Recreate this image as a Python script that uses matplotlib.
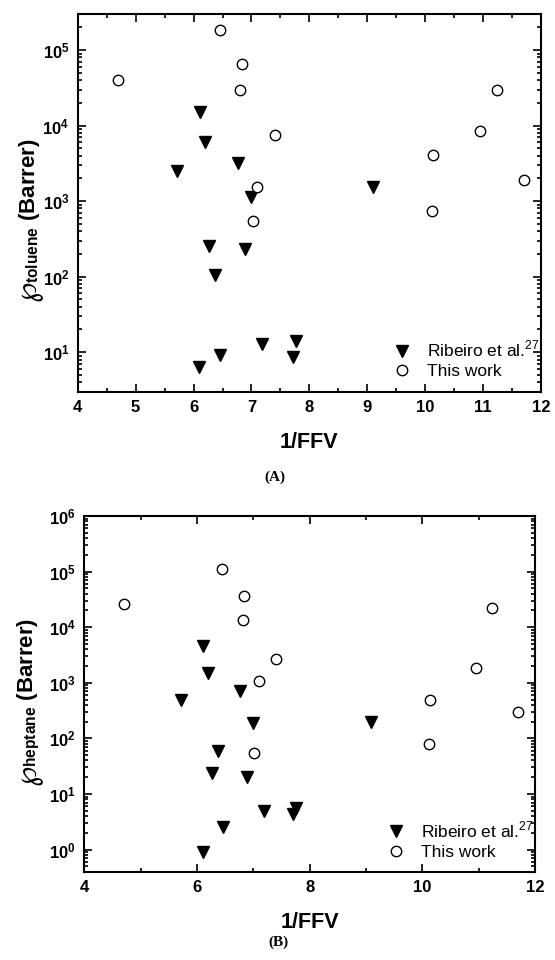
import matplotlib
matplotlib.use('Agg')
from matplotlib import pyplot as plt
from matplotlib.ticker import LogLocator, MultipleLocator, NullFormatter

plt.rcParams['font.family'] = ['Liberation Sans', 'DejaVu Sans']
plt.rcParams['mathtext.fontset'] = 'custom'
plt.rcParams['mathtext.rm'] = 'Liberation Sans'
plt.rcParams['mathtext.bf'] = 'Liberation Sans:bold'

# Ribeiro et al. (triangles)
rib_x = [5.71, 6.10, 6.11, 6.20, 6.26, 6.37, 6.46, 6.76, 6.89, 7.00, 7.19, 7.71, 7.76, 9.09]
rib_toluene = [2.5e3, 6.3, 1.53e4, 6.0e3, 252, 106, 9.3, 3.24e3, 232, 1.13e3, 13, 8.7, 14, 1.53e3]
rib_heptane = [482, 0.91, 4.6e3, 1.5e3, 23.4, 59, 2.5, 708, 20, 190, 5.0, 4.3, 5.6, 196]

# this work (open circles)
tw_x = [4.70, 6.45, 6.83, 6.81, 7.40, 7.10, 7.02, 10.14, 10.12, 10.95, 11.23, 11.70]
tw_toluene = [4.0e4, 1.84e5, 6.5e4, 2.95e4, 7.4e3, 1.56e3, 538, 4.1e3, 745, 8.5e3, 3.0e4, 1.9e3]
tw_heptane = [2.57e4, 1.13e5, 3.6e4, 1.34e4, 2.7e3, 1.09e3, 55, 489, 80, 1.86e3, 2.2e4, 297]

W, H = 555, 960
fig = plt.figure(figsize=(W / 100, H / 100), dpi=100)
axA = fig.add_axes([0.140, 0.592, 0.835, 0.3934])
axB = fig.add_axes([0.152, 0.092, 0.812, 0.3705])


def style_ax(ax, ylo, yhi, xmaj, xmin, gas, ysym):
    ax.plot(rib_x, rib_toluene if gas == 'toluene' else rib_heptane, 'v', color='black',
            markersize=9, linestyle='none', label='Ribeiro et al.$^{27}$')
    ax.plot(tw_x, tw_toluene if gas == 'toluene' else tw_heptane, 'o', markerfacecolor='white',
            markeredgecolor='black', markeredgewidth=1.0, markersize=7.5, linestyle='none',
            label='This work')
    ax.set_yscale('log')
    ax.set_ylim(ylo, yhi)
    ax.set_xlim(4, 12)
    ax.xaxis.set_major_locator(MultipleLocator(xmaj))
    ax.xaxis.set_minor_locator(MultipleLocator(xmin))
    ax.yaxis.set_major_locator(LogLocator(base=10, numticks=20))
    ax.yaxis.set_minor_locator(LogLocator(base=10, subs=range(2, 10), numticks=20))
    ax.yaxis.set_minor_formatter(NullFormatter())
    for s in ax.spines.values():
        s.set_linewidth(1.5)
    ax.tick_params(which='both', direction='in', top=True, right=True, width=1.2)
    ax.tick_params(which='major', length=5.5, labelsize=12, pad=6)
    ax.tick_params(which='minor', length=3)
    for lab in ax.get_xticklabels() + ax.get_yticklabels():
        lab.set_fontweight('bold')
    ax.set_xlabel('1/FFV', fontsize=15.5, fontweight='bold', labelpad=12)
    ax.legend(loc='lower right', bbox_to_anchor=(1.0, 0.028), frameon=False, fontsize=12.5,
              handletextpad=0.45, labelspacing=0.25, borderaxespad=0.0, borderpad=0.1)

    # y label: big script P, then subscript + unit stacked above it
    fig.text(28 / W, 1 - ysym / H, '\u2118', fontsize=21, family='DejaVu Sans',
             rotation=90, ha='center', va='center')
    fig.text(29 / W, 1 - (ysym - 8) / H, r'$_{\mathbf{' + gas + r'}}$ (Barrer)',
             fontsize=16, fontweight='bold', rotation=90, ha='center', va='bottom')


style_ax(axA, 3, 3e5, 1, 0.5, 'toluene', 291)
style_ax(axB, 0.4, 1e6, 2, 1, 'heptane', 775)

fig.text(275 / W, 1 - 477 / H, '(A)', fontsize=11, fontweight='bold',
         family='Liberation Serif', ha='center', va='center')
fig.text(278 / W, 1 - 942 / H, '(B)', fontsize=11, fontweight='bold',
         family='Liberation Serif', ha='center', va='center')

fig.savefig('out.png', dpi=100)
